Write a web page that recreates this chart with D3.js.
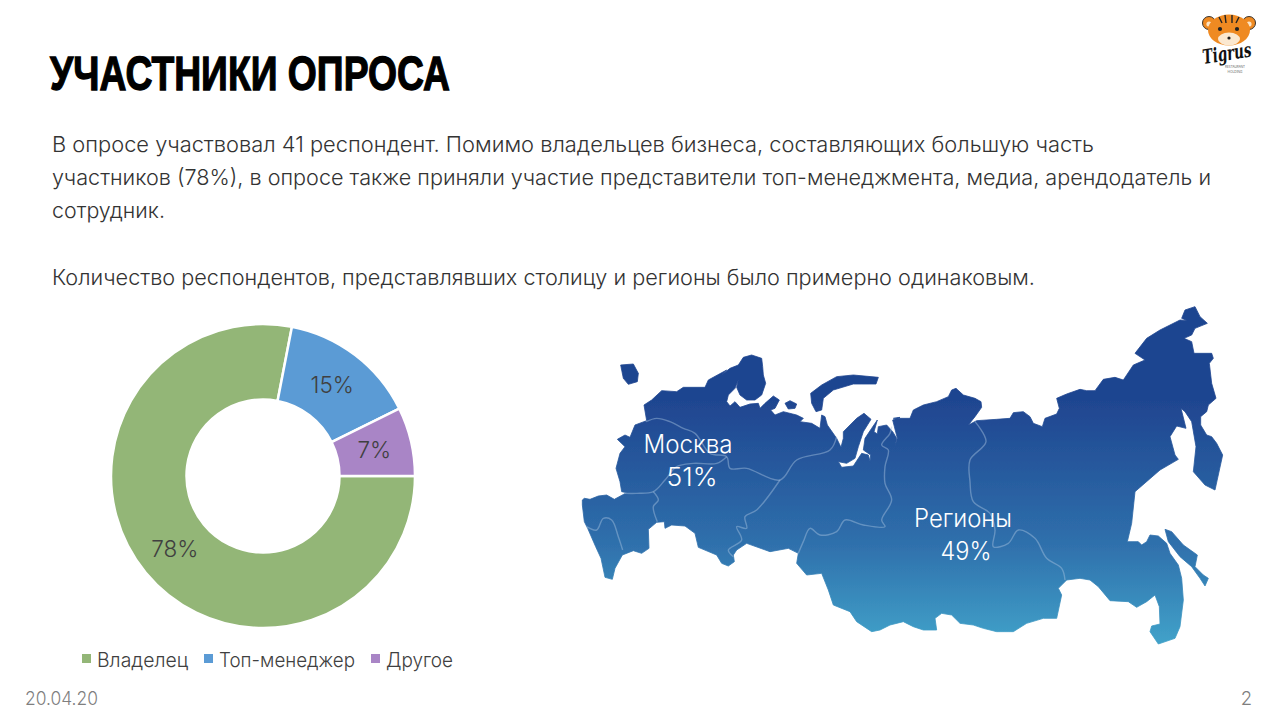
<!DOCTYPE html>
<html lang="ru"><head><meta charset="utf-8">
<script src="https://cdn.jsdelivr.net/npm/d3@7/dist/d3.min.js"></script>
<style>html,body{margin:0;padding:0;background:#fff;overflow:hidden}svg{display:block}text{font-family:Inter,Roboto,"Liberation Sans",sans-serif;font-weight:300}</style>
</head><body><svg id="c" width="1271" height="717"></svg>
<script>
// ---- data ----
const categories = ["Владелец", "Топ-менеджер", "Другое"];
const respondents = [32, 6, 3];   // of 41 respondents: 78%, 15%, 7%
const colors = ["#93b677", "#5b9bd5", "#a985c6"];
const regionLabels = ["Москва", "Регионы"];
const regionShares = [51, 49];
const titleText = "УЧАСТНИКИ ОПРОСА";
const bodyLines = [
  "В опросе участвовал 41 респондент. Помимо владельцев бизнеса, составляющих большую часть",
  "участников (78%), в опросе также приняли участие представители топ-менеджмента, медиа, арендодатель и",
  "сотрудник.",
  "Количество респондентов, представлявших столицу и регионы было примерно одинаковым."
];
const dateText = "20.04.20", pageText = "2";

const crop = (x0, y0) => p => p.map(([x, y]) => [x0 + x / 3, y0 + y / 3]);
const a = crop(570, 300), b = crop(880, 300), c1 = crop(580, 350), c2 = crop(740, 360),
      c3 = crop(1080, 300), c4 = crop(1040, 500), c5 = crop(575, 490);
const mainland = [
  ...c5([[22,45],[22,30],[28,25],[45,28],[70,18],[95,15],[118,28],[155,8]]),
  ...c1([[125,425],[120,395],[108,355],[120,310],[135,290],[112,268],[135,255],[150,262],[165,225],[200,212],[192,165],[215,150],[245,122],[290,125],[310,112],[375,112],[385,90],[440,60]]),
  ...a([[455,225],[480,205],[505,195],[520,172],[545,165],[575,175],[578,200],[580,225],[587,250],[575,285],[555,300],[530,300],[510,285],[500,262],[505,240],[495,265],[475,285],[470,305],[480,318],[495,305],[510,322],[540,312],[565,310]]),
  ...c2([[60,145],[75,130],[100,108],[118,120],[105,145],[92,150],[105,165],[130,155],[170,165],[190,175],[180,185],[215,190],[240,205],[245,165],[255,170],[262,195],[290,235],[303,262],[310,235],[310,215],[350,175],[372,160],[393,178],[370,215],[355,260],[345,295],[320,310],[295,305],[305,322],[340,318],[365,280],[385,285],[390,303],[392,285],[370,270],[375,235],[395,205],[412,180],[402,215],[412,222],[415,200],[440,195],[458,215],[470,235],[465,258],[472,235],[458,180],[480,172]]),
  ...b([[40,355],[90,355],[100,330],[130,315],[170,305],[205,290],[215,270],[228,265],[250,285],[285,295],[303,305],[305,322],[285,350],[265,375],[290,362],[350,358],[390,355],[400,338],[430,335],[450,350],[460,370],[487,380],[495,355],[530,342],[538,325],[530,295],[560,282],[600,268]]),
  ...c3([[0,268],[20,272],[45,272],[70,238],[105,232],[130,240],[160,195],[195,180],[165,160],[200,115],[240,90],[300,60],[322,62],[305,55],[315,30],[345,20],[360,50],[382,70],[345,85],[335,105],[312,115],[335,125],[342,160],[395,160],[400,175],[388,190],[395,250],[408,295],[385,315],[380,335],[362,350],[362,375],[380,405],[395,410],[410,430],[428,465],[405,570],[375,555],[340,515],[348,440],[335,365],[315,335],[303,325],[318,385],[290,378],[270,410],[285,465],[295,478],[240,510],[165,575]]),
  ...c4([[275,70],[262,125],[295,125],[305,135],[320,125],[330,105],[355,108],[380,130],[390,160],[415,195],[425,235],[430,300],[420,380],[405,415],[355,432],[330,395],[335,378],[360,372],[358,320],[345,285],[320,305],[290,322],[265,305],[210,302],[175,260],[150,240],[120,235],[80,240],[55,265],[65,285],[50,355]]),
  ...b([[490,955],[440,970],[400,995],[350,995],[310,985],[280,975],[240,970],[215,945],[185,940],[165,955],[170,990],[130,990],[100,980],[70,965],[30,975],[0,990]]),
  ...a([[905,995],[860,965],[840,935],[790,915],[775,870],[755,820],[710,825],[680,790],[685,760],[655,745],[600,755],[530,730],[500,750]]),
  ...c5([[475,195],[478,215],[460,228],[440,220],[425,195],[370,172],[360,130],[330,108],[290,105],[270,115],[268,95],[245,97],[220,118],[222,175],[200,190],[175,182],[142,195],[120,235],[112,268],[90,262],[78,205],[62,170],[38,115],[28,95]])
];
const islands = [
  c4([[375,88],[395,95],[430,135],[472,165],[465,200],[490,225],[505,235],[495,258],[480,235],[455,200],[420,170],[385,125]]),
  c2([[212,100],[245,75],[290,50],[340,45],[415,52],[408,72],[340,72],[280,90],[250,115],[245,150],[228,155],[215,130]]),
  c2([[135,130],[150,122],[170,132],[165,145],[145,147]]),
  c1([[122,45],[160,42],[175,70],[172,95],[145,103],[130,85]])
];
const borders = [
  a([[228,365],[260,355],[300,365],[340,385],[375,400],[420,460],[470,470],[480,505],[530,505],[630,540],[680,480],[780,450],[800,410]]),
  a([[630,540],[560,630],[525,650],[530,685],[500,680],[515,720],[475,750],[490,770]]),
  a([[470,470],[440,490],[370,490],[320,500],[285,540],[250,575],[200,580],[165,580]]),
  a([[250,575],[265,600],[250,620],[262,665]]),
  a([[50,680],[80,690],[100,655],[125,660],[145,710],[158,750]]),
  a([[685,760],[700,725],[720,685],[750,705],[800,695],[825,660],[880,675],[945,680],[935,660],[965,600],[945,550],[945,500],[955,450],[935,435],[960,400],[965,380]]),
  b([[285,365],[318,425],[270,480],[270,545],[280,605],[330,640],[345,690],[340,740],[385,730],[415,690],[465,715],[500,775],[545,805],[555,840]])
];

// ---- drawing ----
const svg = d3.select("#c");
const fit = (sel, w) => sel.attr("textLength", w).attr("lengthAdjust", "spacingAndGlyphs");

// title
svg.append("text").attr("x", 50).attr("y", 90).text(titleText)
  .style("font-family", '"Liberation Sans Narrow","Liberation Sans",sans-serif').style("font-weight", 700)
  .attr("font-size", 49).attr("fill", "#000").attr("stroke", "#000").attr("stroke-width", 1.3)
  .call(fit, 400);

// body
const bodyY = [152, 185, 218, 285], bodyW = [1042, 1159, 113, 983];
svg.selectAll("text.body").data(bodyLines).join("text").attr("class", "body")
  .attr("x", 52).attr("y", (d, i) => bodyY[i]).attr("font-size", 22).attr("fill", "#333")
  .text(d => d).each(function (d, i) { d3.select(this).call(fit, bodyW[i]); });

// donut
const pie = d3.pie().sort(null).startAngle(Math.PI / 2).endAngle(Math.PI * 2.5);
const arc = d3.arc().innerRadius(76.5).outerRadius(152);
const donut = svg.append("g").attr("transform", "translate(263,476)");
const arcs = pie(respondents);
const total = d3.sum(respondents);
donut.selectAll("path").data(arcs).join("path").attr("d", arc)
  .attr("fill", (d, i) => colors[i]).attr("stroke", "#fff").attr("stroke-width", 2.5);
donut.selectAll("text").data(arcs).join("text")
  .attr("transform", d => `translate(${arc.centroid(d)})`).attr("text-anchor", "middle").attr("dy", "0.36em")
  .attr("font-size", 22.5).attr("fill", "#404040").text(d => Math.round(d.data / total * 100) + "%");

// legend
const legX = [82, 204, 371], legW = [91, 136, 67];
const leg = svg.selectAll("g.leg").data(categories).join("g").attr("class", "leg")
  .attr("transform", (d, i) => `translate(${legX[i]},654)`);
leg.append("rect").attr("width", 9).attr("height", 9).attr("fill", (d, i) => colors[i]);
leg.append("text").attr("x", 15).attr("y", 13).attr("font-size", 20).attr("fill", "#404040")
  .text(d => d).each(function (d, i) { d3.select(this).call(fit, legW[i]); });

// footer
svg.append("text").attr("x", 25).attr("y", 705).attr("font-size", 18.5).attr("fill", "#7f7f7f").text(dateText).call(fit, 73);
svg.append("text").attr("x", 1252).attr("y", 705).attr("text-anchor", "end").attr("font-size", 18.5).attr("fill", "#7f7f7f").text(pageText);

// map
const defs = svg.append("defs");
const grad = defs.append("linearGradient").attr("id", "mapGrad")
  .attr("gradientUnits", "userSpaceOnUse").attr("x1", 0).attr("x2", 0).attr("y1", 400).attr("y2", 640);
grad.selectAll("stop").data([["0", "#1f4590"], ["0.6", "#2f70ac"], ["1", "#40a0c8"]]).join("stop")
  .attr("offset", d => d[0]).attr("stop-color", d => d[1]);
defs.append("filter").attr("id", "soft").append("feGaussianBlur").attr("stdDeviation", 0.45);
const closed = d3.line().curve(d3.curveLinearClosed);
const open = d3.line().curve(d3.curveCatmullRom);
const map = svg.append("g").attr("filter", "url(#soft)");
map.selectAll("path.land").data([mainland, ...islands]).join("path").attr("class", "land")
  .attr("d", closed).attr("fill", "url(#mapGrad)").attr("stroke", "url(#mapGrad)").attr("stroke-width", 0.8).attr("stroke-linejoin", "round");
map.selectAll("path.border").data(borders).join("path").attr("class", "border")
  .attr("d", open).attr("fill", "none").attr("stroke", "#a8c4e0").attr("stroke-opacity", 0.45).attr("stroke-width", 1.4);

const mapLabel = [[688, 453, 692, 486, 89, 51], [963, 527, 966, 560, 98, 51]];
regionLabels.forEach((t, i) => {
  const [x1, y1, x2, y2, w1, w2] = mapLabel[i];
  svg.append("text").attr("x", x1).attr("y", y1).attr("text-anchor", "middle").attr("font-size", 25).attr("fill", "#fff").text(t).call(fit, w1);
  svg.append("text").attr("x", x2).attr("y", y2).attr("text-anchor", "middle").attr("font-size", 25).attr("fill", "#fff").text(regionShares[i] + "%").call(fit, w2);
});

// logo
const logo = svg.append("g").attr("transform", "translate(1229,31)");
[-20, 20].forEach(x => {
  logo.append("circle").attr("cx", x).attr("cy", -8).attr("r", 6.5).attr("fill", "#ef8a22").attr("stroke", "#222").attr("stroke-width", 0.9);
  logo.append("circle").attr("cx", x).attr("cy", -7).attr("r", 2.6).attr("fill", "#fbe3c4");
});
logo.append("ellipse").attr("cx", 0).attr("cy", -1).attr("rx", 21).attr("ry", 15.5).attr("fill", "#ef8a22");
logo.append("ellipse").attr("cx", 0).attr("cy", 8).attr("rx", 11).attr("ry", 6.5).attr("fill", "#fbe8d0");
[[-9, -2], [8, -2]].forEach(([x, y]) => logo.append("circle").attr("cx", x).attr("cy", y).attr("r", 2.1).attr("fill", "#222"));
logo.append("circle").attr("cx", 0).attr("cy", 7).attr("r", 1.6).attr("fill", "#222");
[[-10, -14, -7, -8], [-4, -16, -3, -8], [3, -16, 3, -8], [10, -14, 7, -8]].forEach(([x1, y1, x2, y2]) =>
  logo.append("line").attr("x1", x1).attr("y1", y1).attr("x2", x2).attr("y2", y2).attr("stroke", "#222").attr("stroke-width", 1.4));
logo.append("text").attr("x", -1).attr("y", 29).attr("text-anchor", "middle").attr("font-size", 20)
  .attr("transform", "rotate(-9 0 29)")
  .style("font-family", '"DejaVu Serif",serif').style("font-style", "italic").style("font-weight", 700).attr("fill", "#111").text("Tigrus").call(fit, 49);
logo.append("text").attr("x", 6).attr("y", 37).attr("text-anchor", "middle").attr("font-size", 4).attr("fill", "#333").text("RESTAURANT").call(fit, 20);
logo.append("text").attr("x", 6).attr("y", 41.5).attr("text-anchor", "middle").attr("font-size", 4).attr("fill", "#333").text("HOLDING").call(fit, 15);
</script></body></html>
